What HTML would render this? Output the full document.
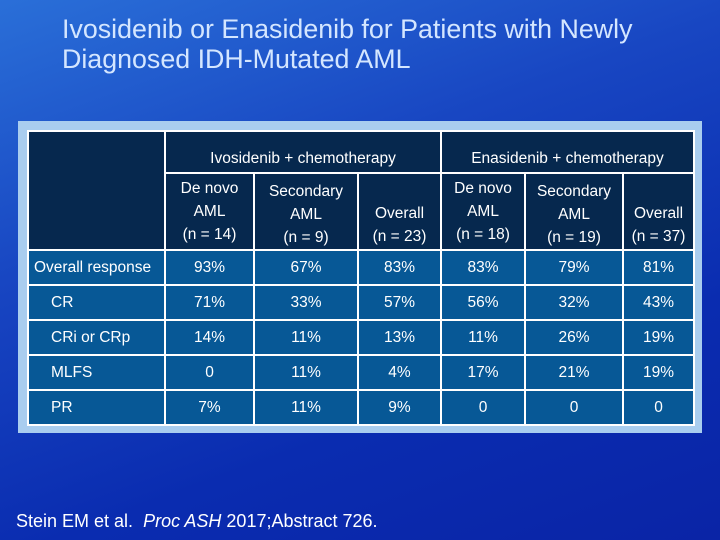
<!DOCTYPE html>
<html><head><meta charset="utf-8"><style>
body{margin:0;width:720px;height:540px;overflow:hidden;font-family:"Liberation Sans",sans-serif;
background:linear-gradient(160deg,#2a6fd8 0%,#1846c2 35%,#0a2cb0 70%,#0a24a6 100%);position:relative}
.title{position:absolute;left:62px;top:14px;color:#d4e6ff;font-size:26.8px;line-height:30px}
.panel{position:absolute;left:18px;top:121px;width:684px;height:312px;background:#a9cdef}
table{position:absolute;left:27px;top:130px;border-collapse:collapse;color:#fff;font-size:15.5px}
td{border:2px solid #fff;text-align:center;padding:0;background:#075896;line-height:23px}
.h td{background:#06284e}
.lab{text-align:left;padding-left:5px}
.sub{padding-left:22px}
.foot{position:absolute;left:16px;top:511px;color:#fff;font-size:18px}
</style></head><body>
<div class="title">Ivosidenib or Enasidenib for Patients with Newly<br>Diagnosed IDH-Mutated AML</div>
<div class="panel"></div>
<table>
<colgroup><col style="width:137px"><col style="width:89px"><col style="width:104px"><col style="width:83px"><col style="width:84px"><col style="width:98px"><col style="width:71px"></colgroup>
<tr class="h" style="height:42px"><td rowspan="2"></td>
<td colspan="3" style="vertical-align:bottom;padding-bottom:2px">Ivosidenib + chemotherapy</td>
<td colspan="3" style="vertical-align:bottom;padding-bottom:2px">Enasidenib + chemotherapy</td></tr>
<tr class="h" style="height:73px">
<td>De novo<br>AML<br>(n = 14)</td>
<td style="vertical-align:top;padding-top:6px">Secondary<br>AML<br>(n = 9)</td>
<td style="vertical-align:bottom;padding-bottom:1px">Overall<br>(n = 23)</td>
<td>De novo<br>AML<br>(n = 18)</td>
<td style="vertical-align:top;padding-top:6px">Secondary<br>AML<br>(n = 19)</td>
<td style="vertical-align:bottom;padding-bottom:1px">Overall<br>(n = 37)</td></tr>
<tr style="height:35px"><td class="lab">Overall response</td><td>93%</td><td>67%</td><td>83%</td><td>83%</td><td>79%</td><td>81%</td></tr>
<tr style="height:35px"><td class="lab sub">CR</td><td>71%</td><td>33%</td><td>57%</td><td>56%</td><td>32%</td><td>43%</td></tr>
<tr style="height:35px"><td class="lab sub">CRi or CRp</td><td>14%</td><td>11%</td><td>13%</td><td>11%</td><td>26%</td><td>19%</td></tr>
<tr style="height:35px"><td class="lab sub">MLFS</td><td>0</td><td>11%</td><td>4%</td><td>17%</td><td>21%</td><td>19%</td></tr>
<tr style="height:35px"><td class="lab sub">PR</td><td>7%</td><td>11%</td><td>9%</td><td>0</td><td>0</td><td>0</td></tr>
</table>
<div class="foot">Stein EM et al.&nbsp; <i>Proc ASH</i> 2017;Abstract 726.</div>
</body></html>
